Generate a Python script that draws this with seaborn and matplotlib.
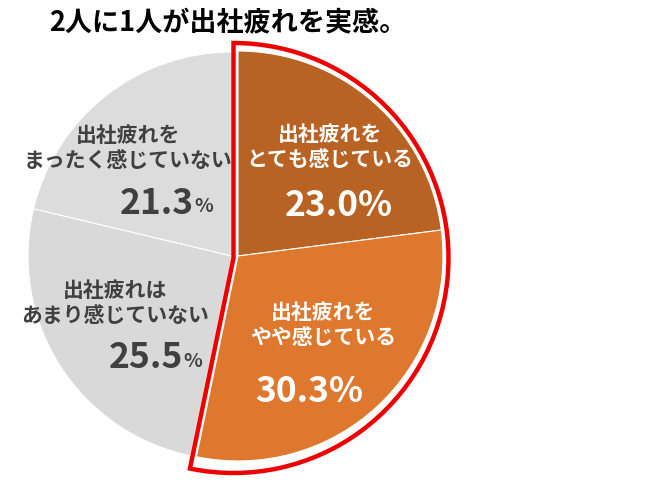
import matplotlib.pyplot as plt
import seaborn as sns
from matplotlib.patches import Wedge

# data
categories = ['出社疲れを\nとても感じている', '出社疲れを\nやや感じている',
              '出社疲れは\nあまり感じていない', '出社疲れを\nまったく感じていない']
shares = [23.0, 30.3, 25.5, 21.3]
slice_colors = ['#B86224', '#DE782E', '#D9D9D9', '#DCDCDC']
title = '2人に1人が出社疲れを実感。'

H = 481


def py(y):
    # pixel row -> data y
    return H - y


sns.set_theme(style='white')
plt.rcParams['font.family'] = ['Noto Sans CJK JP', 'DejaVu Sans']

fig = plt.figure(figsize=(6.5, 4.81), dpi=100)
ax = fig.add_axes([0, 0, 1, 1])

wedges, _ = ax.pie(shares, colors=slice_colors, startangle=90, counterclock=False,
                   center=(232, py(257)), radius=204,
                   wedgeprops=dict(edgecolor='white', linewidth=0.8))

# pull the two orange slices a little to the right
for w in wedges[:2]:
    w.set_center((238, py(257)))
    w.set_radius(205)

# red outline round the "tired" half
red = Wedge((233.5, py(259)), 215, wedges[1].theta1, wedges[0].theta2,
            fill=False, edgecolor='#EE0000', linewidth=3.2, joinstyle='miter')
ax.add_patch(red)

ax.set_xlim(0, 650)
ax.set_ylim(0, H)
ax.set_aspect('auto')
ax.axis('off')

dark = '#404040'
lab_kw = dict(ha='center', va='center', fontsize=15, fontweight='bold', linespacing=1.25)

# category labels
ax.text(330, py(147), categories[0], color='white', **lab_kw)
ax.text(323, py(325), categories[1], color='white', **lab_kw)
ax.text(115, py(303), categories[2], color=dark, **lab_kw)
ax.text(128, py(148), categories[3], color=dark, **lab_kw)

# values
num_kw = dict(va='center', fontsize=25.5, fontweight='bold')
ax.text(339, py(206), f'{shares[0]:.1f}%', ha='center', color='white', **num_kw)
ax.text(309, py(392), f'{shares[1]:.1f}%', ha='center', color='white', **num_kw)

ax.text(183, py(358), f'{shares[2]:.1f}', ha='right', color=dark, **num_kw)
ax.text(183, py(362), '%', ha='left', va='center', fontsize=14, fontweight='bold', color=dark)
ax.text(194, py(203), f'{shares[3]:.1f}', ha='right', color=dark, **num_kw)
ax.text(194, py(207), '%', ha='left', va='center', fontsize=14, fontweight='bold', color=dark)

ax.text(49, py(23), title, ha='left', va='center', fontsize=19.5, fontweight='bold', color='black')

fig.savefig('out.png', dpi=100)
